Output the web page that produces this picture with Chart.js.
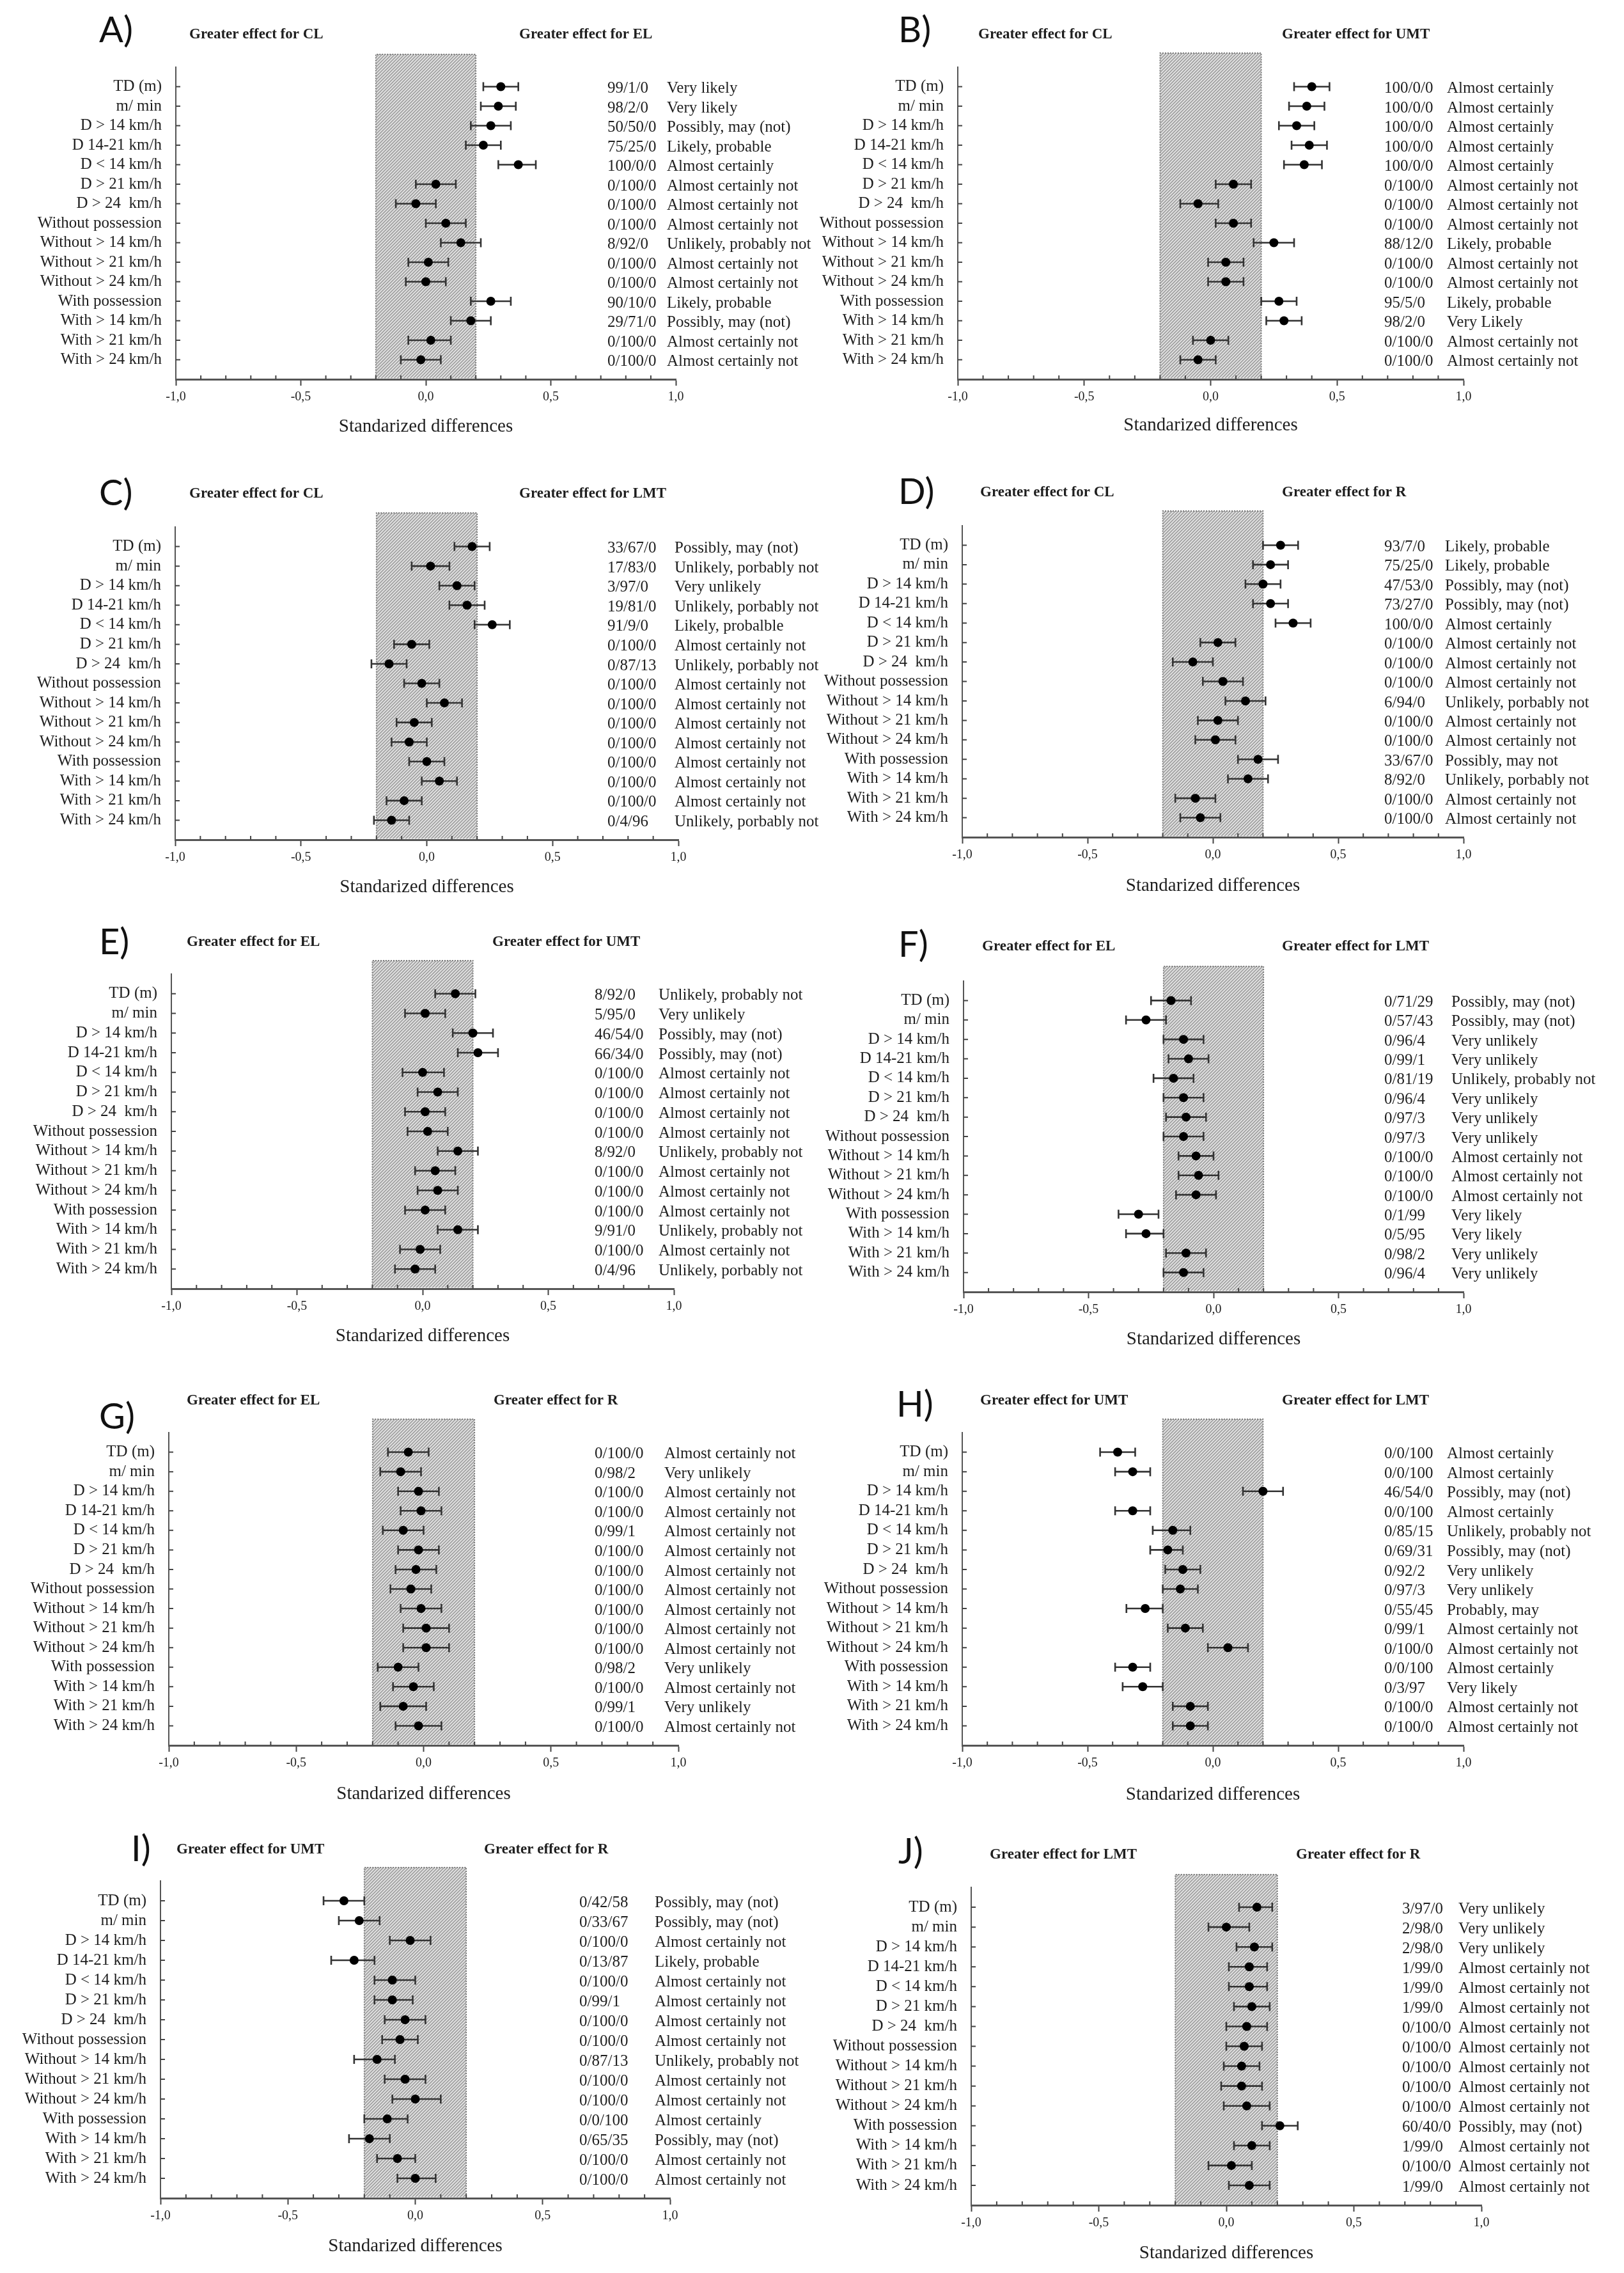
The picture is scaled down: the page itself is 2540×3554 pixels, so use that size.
<!DOCTYPE html>
<html><head><meta charset="utf-8">
<script src="https://cdn.jsdelivr.net/npm/chart.js@4.4.1/dist/chart.umd.min.js"></script>
<style>
html,body{margin:0;padding:0;background:#fff;}
#wrap{position:relative;width:2540px;height:3554px;background:#fff;overflow:hidden;}
canvas{position:absolute;}
</style></head><body><div id="wrap"></div>
<script>
// ---------- DATA ----------
const rowLabels = ['TD (m)','m/ min','D > 14 km/h','D 14-21 km/h','D < 14 km/h','D > 21 km/h','D > 24  km/h',
  'Without possession','Without > 14 km/h','Without > 21 km/h','Without > 24 km/h',
  'With possession','With > 14 km/h','With > 21 km/h','With > 24 km/h'];
const xTickValues = [-1, -0.5, 0, 0.5, 1];
const trivialLow = -0.2, trivialHigh = 0.2;

const estA = [0.30,0.29,0.26,0.23,0.37,0.04,-0.04,0.08,0.14,0.01,0.00,0.26,0.18,0.02,-0.02];
const loA  = [0.23,0.22,0.18,0.16,0.29,-0.04,-0.12,0.00,0.06,-0.07,-0.08,0.18,0.10,-0.07,-0.10];
const hiA  = [0.37,0.36,0.34,0.30,0.44,0.12,0.04,0.16,0.22,0.09,0.08,0.34,0.26,0.10,0.06];
const probA = ['99/1/0','98/2/0','50/50/0','75/25/0','100/0/0','0/100/0','0/100/0','0/100/0','8/92/0','0/100/0','0/100/0','90/10/0','29/71/0','0/100/0','0/100/0'];
const qualA = ['Very likely','Very likely','Possibly, may (not)','Likely, probable','Almost certainly','Almost certainly not','Almost certainly not','Almost certainly not','Unlikely, probably not','Almost certainly not','Almost certainly not','Likely, probable','Possibly, may (not)','Almost certainly not','Almost certainly not'];

const estB = [0.40,0.38,0.34,0.39,0.37,0.09,-0.05,0.09,0.25,0.06,0.06,0.27,0.29,0.00,-0.05];
const loB  = [0.33,0.31,0.27,0.32,0.29,0.02,-0.12,0.02,0.17,-0.01,-0.01,0.20,0.22,-0.07,-0.12];
const hiB  = [0.47,0.45,0.41,0.46,0.44,0.16,0.03,0.16,0.33,0.13,0.13,0.34,0.36,0.07,0.02];
const probB = ['100/0/0','100/0/0','100/0/0','100/0/0','100/0/0','0/100/0','0/100/0','0/100/0','88/12/0','0/100/0','0/100/0','95/5/0','98/2/0','0/100/0','0/100/0'];
const qualB = ['Almost certainly','Almost certainly','Almost certainly','Almost certainly','Almost certainly','Almost certainly not','Almost certainly not','Almost certainly not','Likely, probable','Almost certainly not','Almost certainly not','Likely, probable','Very Likely','Almost certainly not','Almost certainly not'];

const estC = [0.18,0.015,0.12,0.16,0.26,-0.06,-0.15,-0.02,0.07,-0.05,-0.07,0.00,0.05,-0.09,-0.14];
const loC  = [0.11,-0.06,0.05,0.09,0.19,-0.13,-0.22,-0.09,0.00,-0.12,-0.14,-0.07,-0.02,-0.16,-0.21];
const hiC  = [0.25,0.09,0.19,0.23,0.33,0.01,-0.08,0.05,0.14,0.02,0.00,0.07,0.12,-0.02,-0.07];
const probC = ['33/67/0','17/83/0','3/97/0','19/81/0','91/9/0','0/100/0','0/87/13','0/100/0','0/100/0','0/100/0','0/100/0','0/100/0','0/100/0','0/100/0','0/4/96'];
const qualC = ['Possibly, may (not)','Unlikely, porbably not','Very unlikely','Unlikely, porbably not','Likely, probalble','Almost certainly not','Unlikely, porbably not','Almost certainly not','Almost certainly not','Almost certainly not','Almost certainly not','Almost certainly not','Almost certainly not','Almost certainly not','Unlikely, porbably not'];

const estD = [0.27,0.23,0.20,0.23,0.32,0.02,-0.08,0.04,0.13,0.02,0.01,0.18,0.14,-0.07,-0.05];
const loD  = [0.20,0.16,0.13,0.16,0.25,-0.05,-0.16,-0.04,0.05,-0.06,-0.07,0.10,0.06,-0.15,-0.13];
const hiD  = [0.34,0.30,0.27,0.30,0.39,0.09,0.00,0.12,0.21,0.10,0.09,0.26,0.22,0.01,0.03];
const probD = ['93/7/0','75/25/0','47/53/0','73/27/0','100/0/0','0/100/0','0/100/0','0/100/0','6/94/0','0/100/0','0/100/0','33/67/0','8/92/0','0/100/0','0/100/0'];
const qualD = ['Likely, probable','Likely, probable','Possibly, may (not)','Possibly, may (not)','Almost certainly','Almost certainly not','Almost certainly not','Almost certainly not','Unlikely, porbably not','Almost certainly not','Almost certainly not','Possibly, may not','Unlikely, porbably not','Almost certainly not','Almost certainly not'];

const estE = [0.13,0.01,0.20,0.22,0.00,0.06,0.01,0.02,0.14,0.05,0.06,0.01,0.14,-0.01,-0.03];
const loE  = [0.05,-0.07,0.12,0.14,-0.08,-0.02,-0.07,-0.06,0.06,-0.03,-0.02,-0.07,0.06,-0.09,-0.11];
const hiE  = [0.21,0.09,0.28,0.30,0.085,0.14,0.09,0.10,0.22,0.13,0.14,0.09,0.22,0.07,0.05];
const probE = ['8/92/0','5/95/0','46/54/0','66/34/0','0/100/0','0/100/0','0/100/0','0/100/0','8/92/0','0/100/0','0/100/0','0/100/0','9/91/0','0/100/0','0/4/96'];
const qualE = ['Unlikely, probably not','Very unlikely','Possibly, may (not)','Possibly, may (not)','Almost certainly not','Almost certainly not','Almost certainly not','Almost certainly not','Unlikely, probably not','Almost certainly not','Almost certainly not','Almost certainly not','Unlikely, probably not','Almost certainly not','Unlikely, porbably not'];

const estF = [-0.17,-0.27,-0.12,-0.10,-0.16,-0.12,-0.11,-0.12,-0.07,-0.06,-0.07,-0.30,-0.27,-0.11,-0.12];
const loF  = [-0.25,-0.35,-0.20,-0.18,-0.24,-0.20,-0.19,-0.20,-0.14,-0.14,-0.15,-0.38,-0.35,-0.19,-0.20];
const hiF  = [-0.09,-0.19,-0.04,-0.02,-0.08,-0.04,-0.03,-0.04,0.00,0.02,0.01,-0.22,-0.20,-0.03,-0.04];
const probF = ['0/71/29','0/57/43','0/96/4','0/99/1','0/81/19','0/96/4','0/97/3','0/97/3','0/100/0','0/100/0','0/100/0','0/1/99','0/5/95','0/98/2','0/96/4'];
const qualF = ['Possibly, may (not)','Possibly, may (not)','Very unlikely','Very unlikely','Unlikely, probably not','Very unlikely','Very unlikely','Very unlikely','Almost certainly not','Almost certainly not','Almost certainly not','Very likely','Very likely','Very unlikely','Very unlikely'];

const estG = [-0.06,-0.09,-0.02,-0.01,-0.08,-0.02,-0.03,-0.05,-0.01,0.01,0.01,-0.10,-0.04,-0.08,-0.02];
const loG  = [-0.14,-0.17,-0.10,-0.09,-0.16,-0.10,-0.11,-0.13,-0.09,-0.08,-0.08,-0.18,-0.12,-0.17,-0.11];
const hiG  = [0.02,-0.01,0.06,0.07,0.00,0.06,0.05,0.03,0.07,0.10,0.10,-0.02,0.04,0.01,0.07];
const probG = ['0/100/0','0/98/2','0/100/0','0/100/0','0/99/1','0/100/0','0/100/0','0/100/0','0/100/0','0/100/0','0/100/0','0/98/2','0/100/0','0/99/1','0/100/0'];
const qualG = ['Almost certainly not','Very unlikely','Almost certainly not','Almost certainly not','Almost certainly not','Almost certainly not','Almost certainly not','Almost certainly not','Almost certainly not','Almost certainly not','Almost certainly not','Very unlikely','Almost certainly not','Very unlikely','Almost certainly not'];

const estH = [-0.38,-0.32,0.20,-0.32,-0.16,-0.18,-0.12,-0.13,-0.27,-0.11,0.06,-0.32,-0.28,-0.09,-0.09];
const loH  = [-0.45,-0.39,0.12,-0.39,-0.24,-0.25,-0.19,-0.20,-0.345,-0.18,-0.02,-0.39,-0.36,-0.16,-0.16];
const hiH  = [-0.31,-0.25,0.28,-0.25,-0.09,-0.12,-0.05,-0.06,-0.20,-0.04,0.14,-0.25,-0.20,-0.02,-0.02];
const probH = ['0/0/100','0/0/100','46/54/0','0/0/100','0/85/15','0/69/31','0/92/2','0/97/3','0/55/45','0/99/1','0/100/0','0/0/100','0/3/97','0/100/0','0/100/0'];
const qualH = ['Almost certainly','Almost certainly','Possibly, may (not)','Almost certainly','Unlikely, probably not','Possibly, may (not)','Very unlikely','Very unlikely','Probably, may','Almost certainly not','Almost certainly not','Almost certainly','Very likely','Almost certainly not','Almost certainly not'];

const estI = [-0.28,-0.22,-0.02,-0.24,-0.09,-0.09,-0.04,-0.06,-0.15,-0.04,0.00,-0.11,-0.18,-0.07,0.00];
const loI  = [-0.36,-0.30,-0.10,-0.33,-0.16,-0.16,-0.12,-0.13,-0.24,-0.12,-0.09,-0.20,-0.26,-0.15,-0.07];
const hiI  = [-0.20,-0.14,0.06,-0.16,0.00,-0.01,0.04,0.01,-0.08,0.04,0.10,-0.03,-0.10,0.00,0.08];
const probI = ['0/42/58','0/33/67','0/100/0','0/13/87','0/100/0','0/99/1','0/100/0','0/100/0','0/87/13','0/100/0','0/100/0','0/0/100','0/65/35','0/100/0','0/100/0'];
const qualI = ['Possibly, may (not)','Possibly, may (not)','Almost certainly not','Likely, probable','Almost certainly not','Almost certainly not','Almost certainly not','Almost certainly not','Unlikely, probably not','Almost certainly not','Almost certainly not','Almost certainly','Possibly, may (not)','Almost certainly not','Almost certainly not'];

const estJ = [0.12,0.00,0.11,0.09,0.09,0.10,0.08,0.07,0.06,0.06,0.08,0.21,0.10,0.02,0.09];
const loJ  = [0.05,-0.07,0.04,0.01,0.01,0.03,0.00,0.00,-0.01,-0.02,-0.01,0.14,0.03,-0.07,0.01];
const hiJ  = [0.18,0.09,0.18,0.16,0.16,0.17,0.16,0.14,0.13,0.14,0.17,0.28,0.17,0.10,0.17];
const probJ = ['3/97/0','2/98/0','2/98/0','1/99/0','1/99/0','1/99/0','0/100/0','0/100/0','0/100/0','0/100/0','0/100/0','60/40/0','1/99/0','0/100/0','1/99/0'];
const qualJ = ['Very unlikely','Very unlikely','Very unlikely','Almost certainly not','Almost certainly not','Almost certainly not','Almost certainly not','Almost certainly not','Almost certainly not','Almost certainly not','Almost certainly not','Possibly, may (not)','Almost certainly not','Almost certainly not','Almost certainly not'];

const panelLetters = ['A)','B)','C)','D)','E)','F)','G)','H)','I)','J)'];
const leftGroups  = ['Greater effect for CL','Greater effect for CL','Greater effect for CL','Greater effect for CL','Greater effect for EL','Greater effect for EL','Greater effect for EL','Greater effect for UMT','Greater effect for UMT','Greater effect for LMT'];
const rightGroups = ['Greater effect for EL','Greater effect for UMT','Greater effect for LMT','Greater effect for R','Greater effect for UMT','Greater effect for LMT','Greater effect for R','Greater effect for LMT','Greater effect for R','Greater effect for R'];
const xTitle = 'Standarized differences';

// ---------- LAYOUT (page pixels) ----------
const geom = [
 {cl:0,    w:1300, ct:0,    h:712, xm1:275,  xp1:1057, yTop:105,  axisY:593,  boxTop:85,   headY:54,   hL:296,  hR:812,  letX:155,  letY:48,   numX:950,  qualX:1043, xlabY:667},
 {cl:1270, w:1270, ct:0,    h:712, xm1:1498, xp1:2289, yTop:105,  axisY:593,  boxTop:83,   headY:54,   hL:1530, hR:2005, letX:1405, letY:48,   numX:2165, qualX:2263, xlabY:665},
 {cl:0,    w:1300, ct:712,  h:708, xm1:274,  xp1:1061, yTop:824,  axisY:1313, boxTop:802,  headY:772,  hL:296,  hR:812,  letX:155,  letY:772,  numX:950,  qualX:1055, xlabY:1387},
 {cl:1270, w:1270, ct:712,  h:708, xm1:1505, xp1:2289, yTop:822,  axisY:1309, boxTop:799,  headY:770,  hL:1533, hR:2005, letX:1405, letY:770,  numX:2165, qualX:2260, xlabY:1385},
 {cl:0,    w:1300, ct:1420, h:710, xm1:268,  xp1:1054, yTop:1523, axisY:2015, boxTop:1502, headY:1473, hL:292,  hR:770,  letX:155,  letY:1474, numX:930,  qualX:1030, xlabY:2089},
 {cl:1270, w:1270, ct:1420, h:710, xm1:1507, xp1:2289, yTop:1534, axisY:2020, boxTop:1511, headY:1480, hL:1536, hR:2005, letX:1405, letY:1478, numX:2165, qualX:2270, xlabY:2094},
 {cl:0,    w:1300, ct:2130, h:716, xm1:264,  xp1:1061, yTop:2240, axisY:2729, boxTop:2219, headY:2190, hL:292,  hR:772,  letX:155,  letY:2216, numX:930,  qualX:1039, xlabY:2805},
 {cl:1270, w:1270, ct:2130, h:716, xm1:1505, xp1:2289, yTop:2240, axisY:2729, boxTop:2219, headY:2190, hL:1533, hR:2005, letX:1402, letY:2197, numX:2165, qualX:2263, xlabY:2806},
 {cl:0,    w:1300, ct:2846, h:708, xm1:251,  xp1:1048, yTop:2941, axisY:3437, boxTop:2920, headY:2892, hL:276,  hR:757,  letX:205,  letY:2892, numX:906,  qualX:1024, xlabY:3512},
 {cl:1270, w:1270, ct:2846, h:708, xm1:1519, xp1:2317, yTop:2951, axisY:3448, boxTop:2931, headY:2900, hL:1548, hR:2027, letX:1405, letY:2896, numX:2193, qualX:2281, xlabY:3523}
];

const panels = [
 {est:estA, lo:loA, hi:hiA, prob:probA, qual:qualA},
 {est:estB, lo:loB, hi:hiB, prob:probB, qual:qualB},
 {est:estC, lo:loC, hi:hiC, prob:probC, qual:qualC},
 {est:estD, lo:loD, hi:hiD, prob:probD, qual:qualD},
 {est:estE, lo:loE, hi:hiE, prob:probE, qual:qualE},
 {est:estF, lo:loF, hi:hiF, prob:probF, qual:qualF},
 {est:estG, lo:loG, hi:hiG, prob:probG, qual:qualG},
 {est:estH, lo:loH, hi:hiH, prob:probH, qual:qualH},
 {est:estI, lo:loI, hi:hiI, prob:probI, qual:qualI},
 {est:estJ, lo:loJ, hi:hiJ, prob:probJ, qual:qualJ}
];

const SERIF = '"Liberation Serif", "Times New Roman", serif';
const TXT = '#1e1e1e';

function makeForest(p, g, idx) {
  const lx = v => v - g.cl, ly = v => v - g.ct;
  return {
    id: 'forest' + idx,
    beforeDatasetsDraw(chart) {
      const {ctx, chartArea, scales:{x, y}} = chart;
      const x0 = x.getPixelForValue(trivialLow), x1 = x.getPixelForValue(trivialHigh);
      const top = ly(g.boxTop), bot = chartArea.bottom - 1.5;
      ctx.save();
      ctx.fillStyle = '#e2e2e2';
      ctx.fillRect(x0, top, x1 - x0, bot - top);
      ctx.beginPath(); ctx.rect(x0, top, x1 - x0, bot - top); ctx.clip();
      ctx.strokeStyle = '#9c9c9c'; ctx.lineWidth = 1.6;
      ctx.beginPath();
      const hgt = bot - top;
      for (let s = -hgt; s < (x1 - x0) + 10; s += 5) {
        ctx.moveTo(x0 + s, bot); ctx.lineTo(x0 + s + hgt, top);
      }
      ctx.stroke();
      ctx.restore();
      ctx.save();
      ctx.strokeStyle = '#777'; ctx.lineWidth = 1.8; ctx.setLineDash([2, 2]);
      ctx.beginPath();
      ctx.moveTo(x0, bot); ctx.lineTo(x0, top); ctx.lineTo(x1, top); ctx.lineTo(x1, bot);
      ctx.stroke();
      ctx.restore();
      // error bars
      ctx.save();
      ctx.strokeStyle = '#333'; ctx.lineWidth = 2.6;
      for (let i = 0; i < p.est.length; i++) {
        const yy = y.getPixelForValue(i);
        const a = x.getPixelForValue(p.lo[i]), b = x.getPixelForValue(p.hi[i]);
        ctx.beginPath();
        ctx.moveTo(a, yy); ctx.lineTo(b, yy);
        ctx.moveTo(a, yy - 7); ctx.lineTo(a, yy + 7);
        ctx.moveTo(b, yy - 7); ctx.lineTo(b, yy + 7);
        ctx.stroke();
      }
      ctx.restore();
    },
    afterDraw(chart) {
      const {ctx, chartArea, scales:{x, y}} = chart;
      ctx.save();
      ctx.strokeStyle = '#444'; ctx.lineWidth = 2;
      ctx.beginPath();
      for (let i = 0; i < rowLabels.length; i++) {
        const yy = y.getPixelForValue(i);
        ctx.moveTo(chartArea.left, yy); ctx.lineTo(chartArea.left + 7, yy);
      }
      for (let k = -10; k <= 10; k++) {
        if (k % 5 === 0) continue;
        const xx = x.getPixelForValue(k / 10);
        ctx.moveTo(xx, chartArea.bottom); ctx.lineTo(xx, chartArea.bottom - 6);
      }
      ctx.stroke();
      // panel letter
      ctx.fillStyle = '#111';
      ctx.textBaseline = 'middle'; ctx.textAlign = 'left';
      ctx.font = '56px Lato, "Open Sans", sans-serif';
      ctx.fillText(panelLetters[idx], lx(g.letX), ly(g.letY));
      // headers
      ctx.fillStyle = TXT;
      ctx.font = 'bold 23px ' + SERIF;
      ctx.fillText(leftGroups[idx], lx(g.hL), ly(g.headY));
      ctx.fillText(rightGroups[idx], lx(g.hR), ly(g.headY));
      // right columns
      ctx.font = '25px ' + SERIF;
      for (let i = 0; i < p.prob.length; i++) {
        const yy = y.getPixelForValue(i) + 3;
        ctx.fillText(p.prob[i], lx(g.numX), yy);
        ctx.fillText(p.qual[i], lx(g.qualX), yy);
      }
      ctx.restore();
    }
  };
}

const wrap = document.getElementById('wrap');
panels.forEach((p, idx) => {
  const g = geom[idx];
  const W = g.w;
  const cv = document.createElement('canvas');
  cv.width = W; cv.height = g.h;
  cv.style.left = g.cl + 'px'; cv.style.top = g.ct + 'px';
  cv.style.width = W + 'px'; cv.style.height = g.h + 'px';
  wrap.appendChild(cv);
  const yAxisW = g.xm1 - g.cl;
  const padR = g.cl + W - g.xp1;
  const padT = g.yTop - g.ct;
  const xAxisH = g.ct + g.h - g.axisY;
  const titleSize = 29;
  const titlePadBottom = (g.ct + g.h) - g.xlabY - titleSize * 1.2 / 2;
  new Chart(cv, {
    type: 'scatter',
    data: {
      datasets: [{
        data: p.est.map((v, i) => ({x: v, y: i})),
        pointRadius: 7, pointHoverRadius: 7,
        pointBackgroundColor: '#000', pointBorderColor: '#000', pointBorderWidth: 0
      }]
    },
    options: {
      responsive: false, animation: false, devicePixelRatio: 1, events: [],
      layout: {padding: {top: padT, right: padR, left: 0, bottom: 0}},
      plugins: {legend: {display: false}, tooltip: {enabled: false}},
      scales: {
        x: {
          type: 'linear', min: -1, max: 1,
          afterFit: s => { s.height = xAxisH; },
          border: {display: true, color: '#555', width: 3},
          grid: {
            display: true, drawOnChartArea: false, drawTicks: true, tickLength: 10, tickWidth: 2,
            tickColor: c => (Math.round(c.tick.value * 10) % 5 === 0 ? '#444' : 'rgba(0,0,0,0)')
          },
          ticks: {
            stepSize: 0.1, maxTicksLimit: 100, autoSkip: false, maxRotation: 0, padding: 6,
            color: TXT, font: {family: SERIF, size: 20},
            callback: v => {
              const r = Math.round(v * 10);
              if (r % 5 !== 0) return '';
              const t = xTickValues.find(tv => Math.abs(tv - r / 10) < 1e-9);
              return t === undefined ? '' : t.toFixed(1).replace('.', ',');
            }
          },
          title: {display: true, text: xTitle, color: TXT, font: {family: SERIF, size: titleSize},
                  padding: {top: 0, bottom: titlePadBottom}}
        },
        y: {
          type: 'linear', reverse: true, min: -1, max: rowLabels.length,
          afterFit: s => { s.width = yAxisW; },
          border: {display: true, color: '#555', width: 2},
          grid: {display: false},
          ticks: {
            stepSize: 1, maxTicksLimit: 100, autoSkip: false, padding: 14,
            color: TXT, font: {family: SERIF, size: 25},
            callback: v => { const i = Math.round(v); return rowLabels[i] !== undefined ? rowLabels[i] : ''; }
          }
        }
      }
    },
    plugins: [makeForest(p, g, idx)]
  });
});
</script>
</body></html>
